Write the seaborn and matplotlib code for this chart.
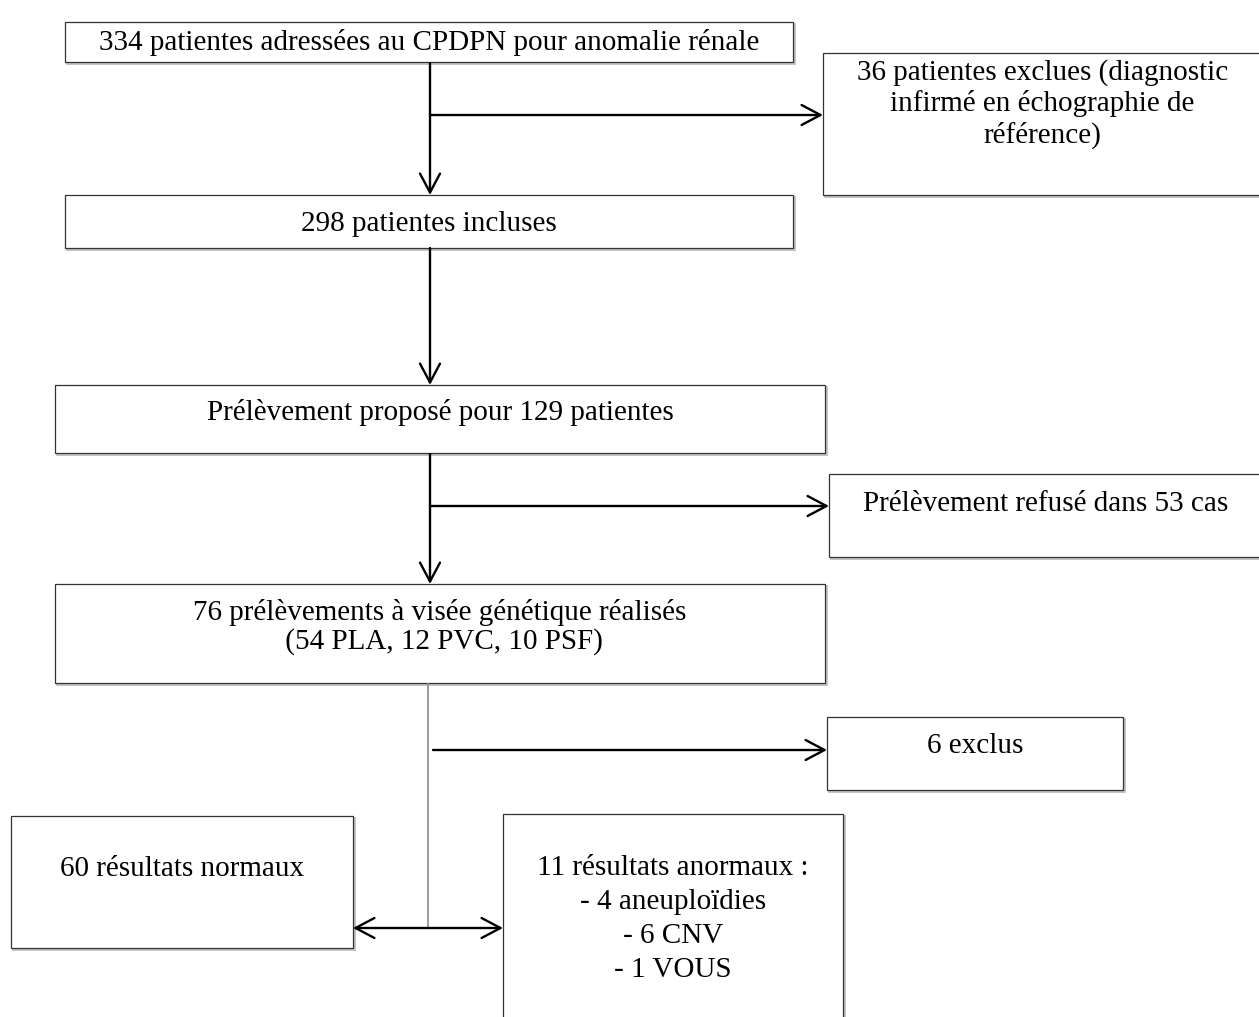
import seaborn as sns
import matplotlib.pyplot as plt
from matplotlib.patches import Rectangle

# box texts
box_texts = [
    "334 patientes adressées au CPDPN pour anomalie rénale",
    "36 patientes exclues (diagnostic\ninfirmé en échographie de\nréférence)",
    "298 patientes incluses",
    "Prélèvement proposé pour 129 patientes",
    "Prélèvement refusé dans 53 cas",
    "76 prélèvements à visée génétique réalisés\n (54 PLA, 12 PVC, 10 PSF)",
    "6 exclus",
    "60 résultats normaux",
    "11 résultats anormaux :\n- 4 aneuploïdies\n- 6 CNV\n- 1 VOUS",
]

sns.set_style("white")
plt.rcParams['font.family'] = ['Liberation Serif', 'DejaVu Serif']

fig = plt.figure(figsize=(12.59, 10.17), dpi=100)
ax = fig.add_axes([0, 0, 1, 1])
ax.set_xlim(0, 1259)
ax.set_ylim(1017, 0)
ax.axis('off')

def box(x0, y0, x1, y1, text, tx=None, ty=None, ls=1.3):
    ax.add_patch(Rectangle((x0 + 2, y0 + 2), x1 - x0, y1 - y0, fill=False,
                           edgecolor='#b8b8b8', lw=1.2, zorder=1))
    ax.add_patch(Rectangle((x0, y0), x1 - x0, y1 - y0, facecolor='white',
                           edgecolor='#333333', lw=0.9, zorder=2))
    if tx is None:
        tx = (x0 + x1) / 2
    if ty is None:
        ty = (y0 + y1) / 2
    ax.text(tx, ty, text, ha='center', va='center', fontsize=21,
            linespacing=ls, zorder=3, color='black')

def arrow(x0, y0, x1, y1, style='->'):
    ax.annotate('', xy=(x1, y1), xytext=(x0, y0),
                arrowprops=dict(arrowstyle=style + ',head_length=0.68,head_width=0.36',
                                lw=1.7, color='black', shrinkA=0, shrinkB=0,
                                mutation_scale=20), zorder=4)

def line(x0, y0, x1, y1, color='black', lw=1.7):
    ax.plot([x0, x1], [y0, y1], color=color, lw=lw, solid_capstyle='butt', zorder=4)

box(65, 22, 793, 62, box_texts[0], ty=42)
box(823, 53, 1262, 195, box_texts[1], ty=104, ls=1.2)
box(65, 195, 793, 248, box_texts[2], ty=224)
box(55, 385, 825, 453, box_texts[3], ty=413)
box(829, 474, 1262, 557, box_texts[4], ty=504)
box(55, 584, 825, 683, box_texts[5], ty=627, ls=1.12)
box(827, 717, 1123, 790, box_texts[6], tx=975, ty=746)
box(11, 816, 353, 948, box_texts[7], tx=182, ty=869)
box(503, 814, 843, 1030, box_texts[8], tx=673, ty=919, ls=1.41)

line(430, 62, 430, 115)
arrow(430, 115, 430, 195)
arrow(430, 115, 823, 115)
arrow(430, 248, 430, 385)
line(430, 453, 430, 506)
arrow(430, 506, 430, 584)
arrow(430, 506, 829, 506)
line(428, 683, 428, 928, color='#8a8a8a', lw=1.2)
arrow(433, 750, 827, 750)
arrow(353, 928, 503, 928, style='<->')

fig.savefig('out.png', dpi=100)
